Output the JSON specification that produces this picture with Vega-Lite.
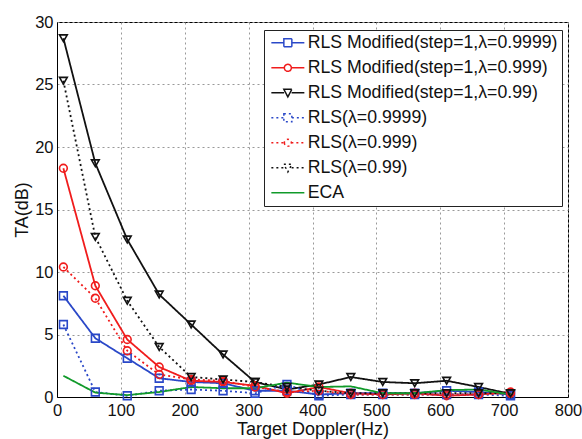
{
  "$schema": "https://vega.github.io/schema/vega-lite/v6.json",
  "width": 511,
  "height": 375,
  "autosize": "none",
  "padding": {"left": 57, "top": 22, "right": 14, "bottom": 42},
  "config": {
    "font": "Liberation Sans",
    "view": {"stroke": "black", "strokeWidth": 1},
    "axis": {
      "grid": true, "gridDash": [2, 3], "gridColor": "#999", "gridWidth": 1,
      "domainColor": "black", "ticks": false,
      "labelFont": "Liberation Sans", "labelFontSize": 16.5, "labelColor": "#111",
      "titleFont": "Liberation Sans", "titleFontSize": 18, "titleFontWeight": "normal", "titleColor": "#111"
    }
  },
  "data": {"values": [
    {"s": "RLS Modified(step=1,λ=0.9999)", "x": 10, "y": 8.1},
    {"s": "RLS Modified(step=1,λ=0.9999)", "x": 60, "y": 4.7},
    {"s": "RLS Modified(step=1,λ=0.9999)", "x": 110, "y": 3.1},
    {"s": "RLS Modified(step=1,λ=0.9999)", "x": 160, "y": 1.5},
    {"s": "RLS Modified(step=1,λ=0.9999)", "x": 210, "y": 1.2},
    {"s": "RLS Modified(step=1,λ=0.9999)", "x": 260, "y": 1.1},
    {"s": "RLS Modified(step=1,λ=0.9999)", "x": 310, "y": 0.5},
    {"s": "RLS Modified(step=1,λ=0.9999)", "x": 360, "y": 0.5},
    {"s": "RLS Modified(step=1,λ=0.9999)", "x": 410, "y": 0.2},
    {"s": "RLS Modified(step=1,λ=0.9999)", "x": 460, "y": 0.3},
    {"s": "RLS Modified(step=1,λ=0.9999)", "x": 510, "y": 0.3},
    {"s": "RLS Modified(step=1,λ=0.9999)", "x": 560, "y": 0.3},
    {"s": "RLS Modified(step=1,λ=0.9999)", "x": 610, "y": 0.5},
    {"s": "RLS Modified(step=1,λ=0.9999)", "x": 660, "y": 0.4},
    {"s": "RLS Modified(step=1,λ=0.9999)", "x": 710, "y": 0.2},
    {"s": "RLS Modified(step=1,λ=0.999)", "x": 10, "y": 18.3},
    {"s": "RLS Modified(step=1,λ=0.999)", "x": 60, "y": 8.9},
    {"s": "RLS Modified(step=1,λ=0.999)", "x": 110, "y": 4.6},
    {"s": "RLS Modified(step=1,λ=0.999)", "x": 160, "y": 2.4},
    {"s": "RLS Modified(step=1,λ=0.999)", "x": 210, "y": 1.3},
    {"s": "RLS Modified(step=1,λ=0.999)", "x": 260, "y": 1.2},
    {"s": "RLS Modified(step=1,λ=0.999)", "x": 310, "y": 0.9},
    {"s": "RLS Modified(step=1,λ=0.999)", "x": 360, "y": 0.3},
    {"s": "RLS Modified(step=1,λ=0.999)", "x": 410, "y": 0.8},
    {"s": "RLS Modified(step=1,λ=0.999)", "x": 460, "y": 0.3},
    {"s": "RLS Modified(step=1,λ=0.999)", "x": 510, "y": 0.2},
    {"s": "RLS Modified(step=1,λ=0.999)", "x": 560, "y": 0.3},
    {"s": "RLS Modified(step=1,λ=0.999)", "x": 610, "y": 0.1},
    {"s": "RLS Modified(step=1,λ=0.999)", "x": 660, "y": 0.2},
    {"s": "RLS Modified(step=1,λ=0.999)", "x": 710, "y": 0.4},
    {"s": "RLS Modified(step=1,λ=0.99)", "x": 10, "y": 28.7},
    {"s": "RLS Modified(step=1,λ=0.99)", "x": 60, "y": 18.7},
    {"s": "RLS Modified(step=1,λ=0.99)", "x": 110, "y": 12.6},
    {"s": "RLS Modified(step=1,λ=0.99)", "x": 160, "y": 8.2},
    {"s": "RLS Modified(step=1,λ=0.99)", "x": 210, "y": 5.8},
    {"s": "RLS Modified(step=1,λ=0.99)", "x": 260, "y": 3.4},
    {"s": "RLS Modified(step=1,λ=0.99)", "x": 310, "y": 1.2},
    {"s": "RLS Modified(step=1,λ=0.99)", "x": 360, "y": 0.6},
    {"s": "RLS Modified(step=1,λ=0.99)", "x": 410, "y": 1.0},
    {"s": "RLS Modified(step=1,λ=0.99)", "x": 460, "y": 1.6},
    {"s": "RLS Modified(step=1,λ=0.99)", "x": 510, "y": 1.2},
    {"s": "RLS Modified(step=1,λ=0.99)", "x": 560, "y": 1.1},
    {"s": "RLS Modified(step=1,λ=0.99)", "x": 610, "y": 1.3},
    {"s": "RLS Modified(step=1,λ=0.99)", "x": 660, "y": 0.8},
    {"s": "RLS Modified(step=1,λ=0.99)", "x": 710, "y": 0.25},
    {"s": "RLS(λ=0.9999)", "x": 10, "y": 5.8},
    {"s": "RLS(λ=0.9999)", "x": 60, "y": 0.4},
    {"s": "RLS(λ=0.9999)", "x": 110, "y": 0.1},
    {"s": "RLS(λ=0.9999)", "x": 160, "y": 0.5},
    {"s": "RLS(λ=0.9999)", "x": 210, "y": 0.6},
    {"s": "RLS(λ=0.9999)", "x": 260, "y": 0.5},
    {"s": "RLS(λ=0.9999)", "x": 310, "y": 0.3},
    {"s": "RLS(λ=0.9999)", "x": 360, "y": 1.0},
    {"s": "RLS(λ=0.9999)", "x": 410, "y": 0.1},
    {"s": "RLS(λ=0.9999)", "x": 460, "y": 0.2},
    {"s": "RLS(λ=0.9999)", "x": 510, "y": 0.2},
    {"s": "RLS(λ=0.9999)", "x": 560, "y": 0.2},
    {"s": "RLS(λ=0.9999)", "x": 610, "y": 0.2},
    {"s": "RLS(λ=0.9999)", "x": 660, "y": 0.2},
    {"s": "RLS(λ=0.9999)", "x": 710, "y": 0.1},
    {"s": "RLS(λ=0.999)", "x": 10, "y": 10.4},
    {"s": "RLS(λ=0.999)", "x": 60, "y": 7.9},
    {"s": "RLS(λ=0.999)", "x": 110, "y": 3.7},
    {"s": "RLS(λ=0.999)", "x": 160, "y": 1.8},
    {"s": "RLS(λ=0.999)", "x": 210, "y": 1.4},
    {"s": "RLS(λ=0.999)", "x": 260, "y": 1.3},
    {"s": "RLS(λ=0.999)", "x": 310, "y": 0.8},
    {"s": "RLS(λ=0.999)", "x": 360, "y": 0.4},
    {"s": "RLS(λ=0.999)", "x": 410, "y": 0.5},
    {"s": "RLS(λ=0.999)", "x": 460, "y": 0.2},
    {"s": "RLS(λ=0.999)", "x": 510, "y": 0.2},
    {"s": "RLS(λ=0.999)", "x": 560, "y": 0.2},
    {"s": "RLS(λ=0.999)", "x": 610, "y": 0.2},
    {"s": "RLS(λ=0.999)", "x": 660, "y": 0.2},
    {"s": "RLS(λ=0.999)", "x": 710, "y": 0.3},
    {"s": "RLS(λ=0.99)", "x": 10, "y": 25.3},
    {"s": "RLS(λ=0.99)", "x": 60, "y": 12.8},
    {"s": "RLS(λ=0.99)", "x": 110, "y": 7.7},
    {"s": "RLS(λ=0.99)", "x": 160, "y": 4.0},
    {"s": "RLS(λ=0.99)", "x": 210, "y": 1.6},
    {"s": "RLS(λ=0.99)", "x": 260, "y": 1.4},
    {"s": "RLS(λ=0.99)", "x": 310, "y": 1.2},
    {"s": "RLS(λ=0.99)", "x": 360, "y": 0.8},
    {"s": "RLS(λ=0.99)", "x": 410, "y": 0.5},
    {"s": "RLS(λ=0.99)", "x": 460, "y": 0.3},
    {"s": "RLS(λ=0.99)", "x": 510, "y": 0.3},
    {"s": "RLS(λ=0.99)", "x": 560, "y": 0.3},
    {"s": "RLS(λ=0.99)", "x": 610, "y": 0.3},
    {"s": "RLS(λ=0.99)", "x": 660, "y": 0.3},
    {"s": "RLS(λ=0.99)", "x": 710, "y": 0.3},
    {"s": "ECA", "x": 10, "y": 1.7},
    {"s": "ECA", "x": 60, "y": 0.35},
    {"s": "ECA", "x": 110, "y": 0.15},
    {"s": "ECA", "x": 160, "y": 0.4},
    {"s": "ECA", "x": 210, "y": 0.8},
    {"s": "ECA", "x": 260, "y": 0.7},
    {"s": "ECA", "x": 310, "y": 0.7},
    {"s": "ECA", "x": 360, "y": 1.15},
    {"s": "ECA", "x": 410, "y": 0.8},
    {"s": "ECA", "x": 460, "y": 0.85},
    {"s": "ECA", "x": 510, "y": 0.3},
    {"s": "ECA", "x": 560, "y": 0.3},
    {"s": "ECA", "x": 610, "y": 0.55},
    {"s": "ECA", "x": 660, "y": 0.6},
    {"s": "ECA", "x": 710, "y": 0.2}
  ]},
  "encoding": {
    "x": {"field": "x", "type": "quantitative", "title": "Target Doppler(Hz)",
      "scale": {"domain": [0, 800], "nice": false, "zero": false},
      "axis": {"values": [0, 100, 200, 300, 400, 500, 600, 700, 800], "labelFlush": false, "labelPadding": 5, "titlePadding": 2}},
    "y": {"field": "y", "type": "quantitative", "title": "TA(dB)",
      "scale": {"domain": [0, 30], "nice": false},
      "axis": {"values": [0, 5, 10, 15, 20, 25, 30], "labelPadding": 4, "titlePadding": 3}}
  },
  "layer": [
    {
      "mark": {"type": "line", "strokeWidth": 1.8},
      "encoding": {
        "color": {"field": "s", "type": "nominal", "legend": null,
          "scale": {"domain": ["RLS Modified(step=1,λ=0.9999)", "RLS Modified(step=1,λ=0.999)", "RLS Modified(step=1,λ=0.99)", "RLS(λ=0.9999)", "RLS(λ=0.999)", "RLS(λ=0.99)", "ECA"],
            "range": ["#2a48c8", "#f01c1c", "#111111", "#2a48c8", "#f01c1c", "#111111", "#119a2a"]}},
        "strokeDash": {"field": "s", "type": "nominal", "legend": null,
          "scale": {"domain": ["RLS Modified(step=1,λ=0.9999)", "RLS Modified(step=1,λ=0.999)", "RLS Modified(step=1,λ=0.99)", "RLS(λ=0.9999)", "RLS(λ=0.999)", "RLS(λ=0.99)", "ECA"],
            "range": [[1, 0], [1, 0], [1, 0], [2, 3], [2, 3], [2, 3], [1, 0]]}}
      }
    },
    {
      "transform": [{"filter": "datum.s !== 'ECA'"}],
      "mark": {"type": "point", "filled": false, "size": 60, "strokeWidth": 1.6, "opacity": 1},
      "encoding": {
        "color": {"field": "s", "type": "nominal", "legend": null},
        "shape": {"field": "s", "type": "nominal", "legend": null,
          "scale": {"domain": ["RLS Modified(step=1,λ=0.9999)", "RLS Modified(step=1,λ=0.999)", "RLS Modified(step=1,λ=0.99)", "RLS(λ=0.9999)", "RLS(λ=0.999)", "RLS(λ=0.99)"],
            "range": ["square", "circle", "triangle-down", "square", "circle", "triangle-down"]}}
      }
    },
    {
      "mark": {"type": "point", "filled": false, "opacity": 0, "strokeWidth": 1.5},
      "encoding": {
        "color": {"field": "s", "type": "nominal", "title": null,
          "legend": {"orient": "none", "legendX": 207, "legendY": 8, "title": null,
            "fillColor": "white", "strokeColor": "#222", "padding": 4,
            "symbolSize": 100, "symbolOffset": 11, "symbolOpacity": 1, "symbolStrokeWidth": 1.5, "symbolType": "stroke",
            "labelFont": "Liberation Sans", "labelFontSize": 17.7, "labelColor": "#111", "labelOffset": 11,
            "rowPadding": 6, "labelLimit": 320}},
        "strokeDash": {"field": "s", "type": "nominal", "title": null},
        "shape": {"field": "s", "type": "nominal", "title": null,
          "scale": {"domain": ["RLS Modified(step=1,λ=0.9999)", "RLS Modified(step=1,λ=0.999)", "RLS Modified(step=1,λ=0.99)", "RLS(λ=0.9999)", "RLS(λ=0.999)", "RLS(λ=0.99)", "ECA"],
            "range": [
              "M-3.3,0H-0.8M0.8,0H3.3M-0.8,-0.8H0.8V0.8H-0.8Z",
              "M-3.3,0H-0.7M0.7,0H3.3M-0.7,0A0.7,0.7 0 1,0 0.7,0A0.7,0.7 0 1,0 -0.7,0Z",
              "M-3.3,0H-0.75M0.75,0H3.3M-0.8,-0.7L0.8,-0.7L0,0.8Z",
              "M-3.3,0H-0.8M0.8,0H3.3M-0.8,-0.8H0.8V0.8H-0.8Z",
              "M-3.3,0H-0.7M0.7,0H3.3M-0.7,0A0.7,0.7 0 1,0 0.7,0A0.7,0.7 0 1,0 -0.7,0Z",
              "M-3.3,0H-0.75M0.75,0H3.3M-0.8,-0.7L0.8,-0.7L0,0.8Z",
              "M-3.3,0H3.3"
            ]}}
      }
    }
  ],
  "resolve": {"scale": {"shape": "independent"}, "legend": {"color": "independent", "shape": "independent", "strokeDash": "independent"}}
}
